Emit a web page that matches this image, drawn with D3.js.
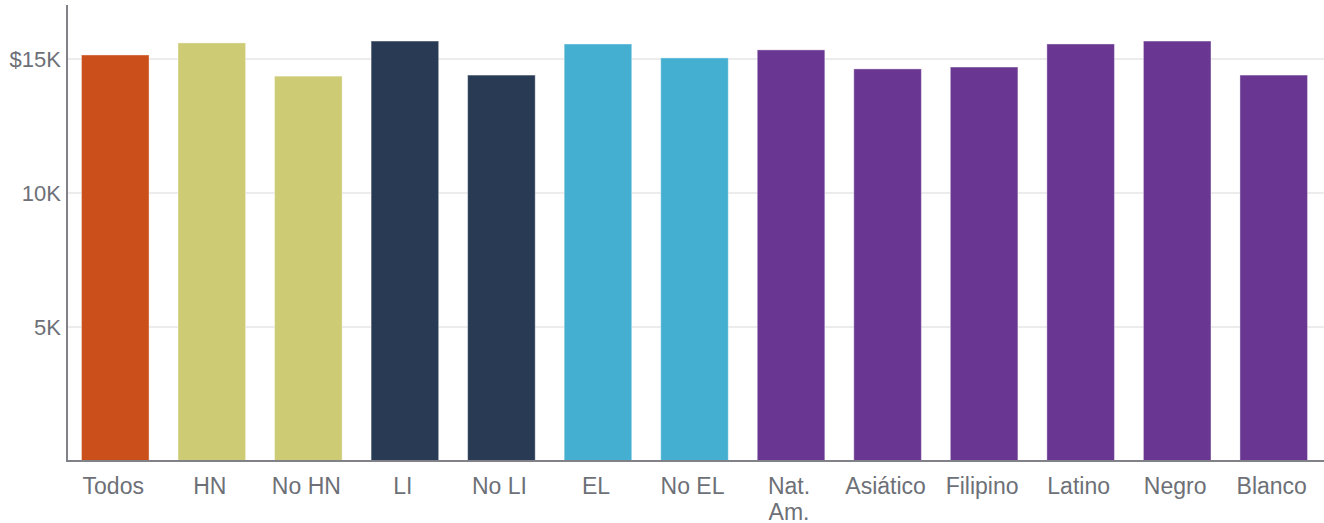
<!DOCTYPE html>
<html>
<head>
<meta charset="utf-8">
<script src="https://cdn.jsdelivr.net/npm/d3@7"></script>
<style>
  body { margin: 0; background: #fff; }
  svg text { font-family: "Liberation Sans", Arial, sans-serif; fill: #6d7077; }
</style>
</head>
<body>
<div id="chart"></div>
<script>
const categories = ['Todos', 'HN', 'No HN', 'LI', 'No LI', 'EL', 'No EL', 'Nat. Am.', 'Asiático', 'Filipino', 'Latino', 'Negro', 'Blanco'];
const values = [15150, 15600, 14360, 15670, 14400, 15560, 15040, 15340, 14630, 14700, 15560, 15670, 14400];
const groups = ['all', 'hn', 'hn', 'li', 'li', 'el', 'el', 'race', 'race', 'race', 'race', 'race', 'race'];
const yTicks = [5000, 10000, 15000];
const yTickLabels = ['5K', '10K', '$15K'];

const colors = {all: '#cb4f1b', hn: '#cdcb74', li: '#283a54', el: '#45afd2', race: '#693791'};
const width = 1324;
const height = 523;
const margin = {top: 5, right: 2, bottom: 62, left: 67};

const svg = d3.select('#chart').append('svg')
  .attr('width', width)
  .attr('height', height);

const x = d3.scaleBand()
  .domain(categories)
  .range([margin.left, width - margin.right])
  .paddingInner(0.3)
  .paddingOuter(0.15);

const y = d3.scaleLinear()
  .domain([0, 17015])
  .range([height - margin.bottom, margin.top]);

// gridlines
svg.append('g')
  .selectAll('line')
  .data(yTicks)
  .enter()
  .append('line')
  .attr('x1', margin.left)
  .attr('x2', width)
  .attr('y1', d => y(d))
  .attr('y2', d => y(d))
  .attr('stroke', '#e6e6e6')
  .attr('stroke-width', 1.5);

svg.append('g')
  .selectAll('rect')
  .data(values)
  .enter()
  .append('rect')
  .attr('x', (d, i) => x(categories[i]))
  .attr('width', x.bandwidth())
  .attr('y', d => y(d))
  .attr('height', d => y(0) - y(d))
  .attr('fill', (d, i) => colors[groups[i]])
  .attr('stroke', '#ffffff')
  .attr('stroke-opacity', 0.4)
  .attr('stroke-width', 1);

// y axis
const yAxis = svg.append('g')
  .attr('transform', `translate(${margin.left},0)`)
  .call(d3.axisLeft(y).tickValues(yTicks).tickSize(0).tickPadding(6)
    .tickFormat((d, i) => yTickLabels[i]));
yAxis.select('.domain').remove();
yAxis.selectAll('text')
  .style('font-size', '22px')
  .attr('dy', '0.35em');

svg.append('line')
  .attr('x1', margin.left)
  .attr('x2', margin.left)
  .attr('y1', margin.top)
  .attr('y2', y(0) + 1)
  .attr('stroke', '#808288')
  .attr('stroke-width', 2);

// x axis
const xAxis = svg.append('g')
  .attr('transform', `translate(-2,${y(0)})`)
  .call(d3.axisBottom(x).tickSize(0).tickPadding(17));
xAxis.select('.domain').remove();
xAxis.selectAll('text')
  .style('font-size', '23px')
  .each(function (d) {
    const t = d3.select(this);
    const parts = d === 'Nat. Am.' ? ['Nat.', 'Am.'] : [d];
    t.text(null);
    parts.forEach((p, i) => {
      t.append('tspan')
        .attr('x', 0)
        .attr('dy', i === 0 ? '0.71em' : '1.1em')
        .text(p);
    });
  })
  .attr('dy', null);

svg.append('line')
  .attr('x1', margin.left - 1)
  .attr('x2', width)
  .attr('y1', y(0))
  .attr('y2', y(0))
  .attr('stroke', '#808288')
  .attr('stroke-width', 2);
</script>
</body>
</html>
